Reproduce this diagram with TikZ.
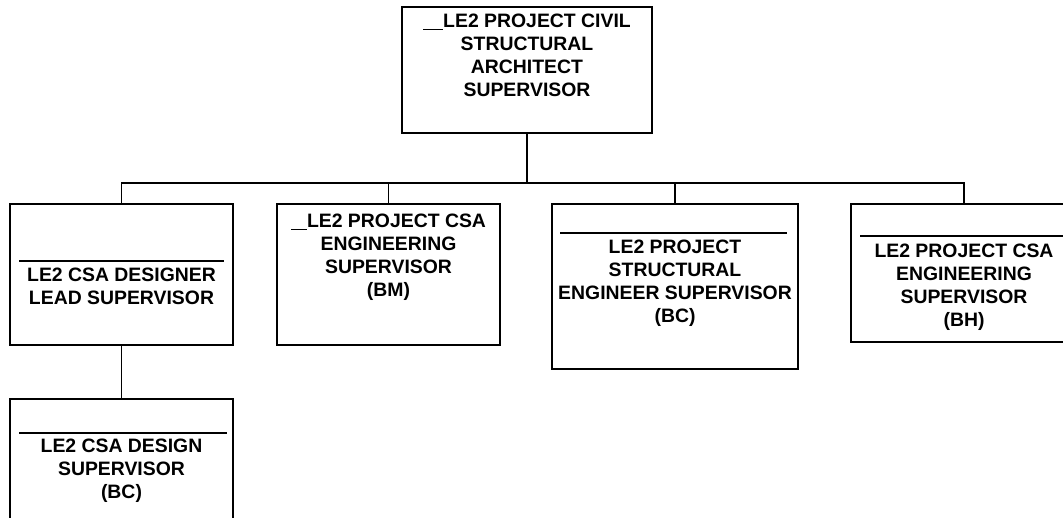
\documentclass[tikz,border=0pt]{standalone}
\usepackage{fontspec}
\setmainfont{Liberation Sans}
\usepackage{tikz}
\usetikzlibrary{arrows}
\tikzset{
	org box/.style={rectangle,draw,line width=0.9pt,inner sep=0pt,outer sep=0pt},
	org text/.style={font=\bfseries\fontsize{9.7}{11.5}\selectfont,align=center,inner sep=0pt,anchor=north},
	name rule/.style={line width=1.1pt}
}

\begin{document}
\begin{tikzpicture}[x=0.5pt,y=-0.5pt,line width=0.75pt]
	\useasboundingbox (0,0) rectangle (1063,518);
	\clip (0,0) rectangle (1063,518);
	% boxes
	\node [org box,minimum width=125pt,minimum height=63pt] (top) at (527,70) {};
	\node [org box,minimum width=111.5pt,minimum height=70.5pt] (b1) at (121.5,274.5) {};
	\node [org box,minimum width=111.5pt,minimum height=70.5pt] (b2) at (388.5,274.5) {};
	\node [org box,minimum width=123pt,minimum height=82.5pt] (b3) at (675,286.5) {};
	\node [org box,minimum width=113pt,minimum height=69pt] (b4) at (964,273) {};
	\node [org box,minimum width=111.5pt,minimum height=70.5pt] (b5) at (121.5,469.5) {};
	% texts
	\node [org text] (t0) at (527,13) {\rule[-1.6pt]{10pt}{0.7pt}LE2 PROJECT CIVIL\\STRUCTURAL\\ARCHITECT\\SUPERVISOR};
	\node [org text] (t1) at (121.5,267) {LE2 CSA DESIGNER\\LEAD SUPERVISOR};
	\node [org text] (t2) at (388.5,213) {\rule[-1.6pt]{8pt}{0.7pt}LE2 PROJECT CSA\\ENGINEERING\\SUPERVISOR\\(BM)};
	\node [org text] (t3) at (675,239) {LE2 PROJECT\\STRUCTURAL\\ENGINEER SUPERVISOR\\(BC)};
	\node [org text] (t4) at (964,243) {LE2 PROJECT CSA\\ENGINEERING\\SUPERVISOR\\(BH)};
	\node [org text] (t5) at (121.5,438) {LE2 CSA DESIGN\\SUPERVISOR\\(BC)};
	% name lines
	\draw [name rule] (b1.north west) ++(9,57) -- ++(205,0);
	\draw [name rule] (b3.north west) ++(8,29) -- ++(227,0);
	\draw [name rule] (b4.north west) ++(9,32) -- ++(220,0);
	\draw [name rule] (b5.north west) ++(9,34) -- ++(208,0);
	% connectors
	\coordinate (bus) at (527,183);
	\draw (top.south) -- (bus);
	\draw (b1.north) |- (bus) -| (b4.north);
	\draw (b2.north) -- (b2.north |- bus);
	\draw (b3.north) -- (b3.north |- bus);
	\draw (b1.south) -- (b5.north);
\end{tikzpicture}
\end{document}
